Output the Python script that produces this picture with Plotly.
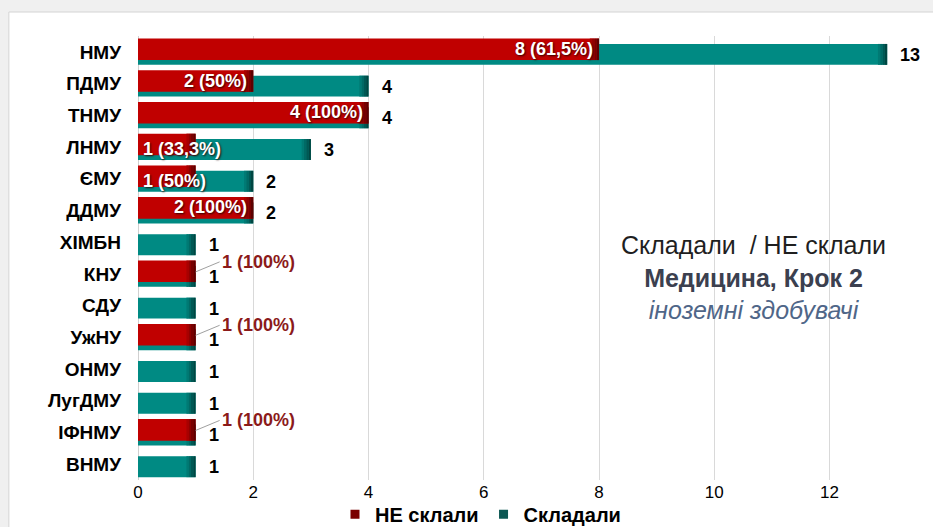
import plotly.graph_objects as go

# ---- data ----
universities = ["НМУ", "ПДМУ", "ТНМУ", "ЛНМУ", "ЄМУ", "ДДМУ", "ХІМБН", "КНУ",
                "СДУ", "УжНУ", "ОНМУ", "ЛугДМУ", "ІФНМУ", "ВНМУ"]
took = [13, 4, 4, 3, 2, 2, 1, 1, 1, 1, 1, 1, 1, 1]          # Складали
failed = [8, 2, 4, 1, 1, 2, 0, 1, 0, 1, 0, 0, 1, 0]          # НЕ склали
x_ticks = [0, 2, 4, 6, 8, 10, 12]
legend_names = ["НЕ склали", "Складали"]
title_lines = ["Складали&nbsp; / НЕ склали", "Медицина, Крок 2", "іноземні здобувачі"]

RED = "#C00000"
TEAL = "#008A83"
RED_SHADES = ["#a80000", "#900000", "#780000", "#5e0000"]
TEAL_SHADES = ["#007a74", "#006a65", "#005854", "#004642"]
FONT = "Arial, Liberation Sans, sans-serif"


def pct_label(f, t):
    s = f"{f / t * 100:.1f}".rstrip("0").rstrip(".").replace(".", ",")
    return f"{f} ({s}%)"


fig = go.Figure()
STEP = 0.04  # width of each shading slice at the bar end (axis units)


def add_bars(values, color, shades, width, offset, name):
    vals = [v if v > 0 else None for v in values]
    fig.add_trace(go.Bar(
        y=universities, x=vals, orientation="h",
        marker=dict(color=color, line=dict(width=0)),
        width=width, offset=offset, textposition="none",
        showlegend=False, name=name, hoverinfo="skip",
    ))
    n = len(shades)
    for i, c in enumerate(shades):
        fig.add_trace(go.Bar(
            y=universities,
            x=[STEP if v > 0 else None for v in values],
            base=[v - STEP * (n - i) if v > 0 else None for v in values],
            orientation="h", marker=dict(color=c, line=dict(width=0)),
            width=width, offset=offset, textposition="none",
            showlegend=False, hoverinfo="skip",
        ))


add_bars(took, TEAL, TEAL_SHADES, 0.66, -0.25, legend_names[1])
add_bars(failed, RED, RED_SHADES, 0.68, -0.42, legend_names[0])

# legend swatches
fig.add_trace(go.Scatter(x=[None], y=[None], mode="markers", name=legend_names[0],
                         marker=dict(symbol="square", size=9, color="#7A0000")))
fig.add_trace(go.Scatter(x=[None], y=[None], mode="markers", name=legend_names[1],
                         marker=dict(symbol="square", size=9, color="#0C5753")))

# teal value labels
for u, t in zip(universities, took):
    fig.add_annotation(x=t, y=u, text=str(t), showarrow=False, xanchor="left",
                       xshift=11, yshift=-3,
                       font=dict(family=FONT, size=18, color="black", weight="bold"))

# red data labels
PX_PER_UNIT = 57.6
FS = 18
for u, f, t in zip(universities, failed, took):
    if f <= 0:
        continue
    lab = pct_label(f, t)
    est_w = len(lab) * 0.55 * FS
    bar_w = f * PX_PER_UNIT
    white = dict(family=FONT, size=FS, color="white", weight="bold",
                 shadow="1px 1px 2px rgba(40,0,0,0.9)")
    if f == t and est_w > bar_w:
        fig.add_annotation(x=f, y=u, text=lab, showarrow=True, arrowhead=0,
                           arrowwidth=1, arrowcolor="#a0a0a0", ax=24, ay=-10,
                           xanchor="left", yanchor="middle", yshift=2,
                           font=dict(family=FONT, size=FS, color="#8B1A1A", weight="bold"))
    elif est_w > bar_w:
        fig.add_annotation(x=0, y=u, text=lab, showarrow=False, xanchor="left",
                           xshift=3, yshift=-2, font=white)
    else:
        fig.add_annotation(x=f, y=u, text=lab, showarrow=False, xanchor="right",
                           xshift=-4, yshift=3, font=white)

# title block
fig.add_annotation(
    xref="paper", yref="paper", x=0.791, y=0.455, xanchor="center", yanchor="middle",
    showarrow=False, align="center",
    text=(f"<span style='color:#1f1f1f'>{title_lines[0]}</span><br>"
          f"<span style='color:#3b404f'><b>{title_lines[1]}</b></span><br>"
          f"<span style='color:#4f6688'><i>{title_lines[2]}</i></span>"),
    font=dict(family=FONT, size=25),
)

# panel background
fig.add_shape(type="rect", xref="paper", yref="paper", x0=-0.166, x1=1.2, y0=-0.3, y1=1.054,
              fillcolor="white", line=dict(color="#d4d4d4", width=1), layer="below")

fig.update_layout(
    width=933, height=527,
    margin=dict(l=138, r=17, t=36, b=47, autoexpand=False),
    paper_bgcolor="#f0f0f0", plot_bgcolor="rgba(0,0,0,0)",
    barmode="overlay", hovermode=False,
    font=dict(family=FONT, color="black"),
    xaxis=dict(range=[0, 13.5], tickvals=x_ticks, showgrid=True, gridcolor="#d9d9d9",
               gridwidth=1, zeroline=True, zerolinecolor="#d0d0d0", zerolinewidth=1,
               tickfont=dict(size=17, color="black"), ticks="", showline=False),
    yaxis=dict(type="category", categoryorder="array", categoryarray=universities,
               range=[len(universities) - 0.5, -0.5], showgrid=False, zeroline=False,
               tickfont=dict(size=19, color="black", weight="bold"), ticks="",
               ticklabelstandoff=16),
    legend=dict(orientation="h", xref="container", yref="container",
                x=0.515, xanchor="center", y=0.024, yanchor="middle",
                font=dict(size=20, color="black", weight="bold"), bgcolor="rgba(0,0,0,0)",
                itemwidth=30, tracegroupgap=0),
)

fig.write_html("out.html", config={"displayModeBar": False},
               post_script="document.body.style.margin='0';")
